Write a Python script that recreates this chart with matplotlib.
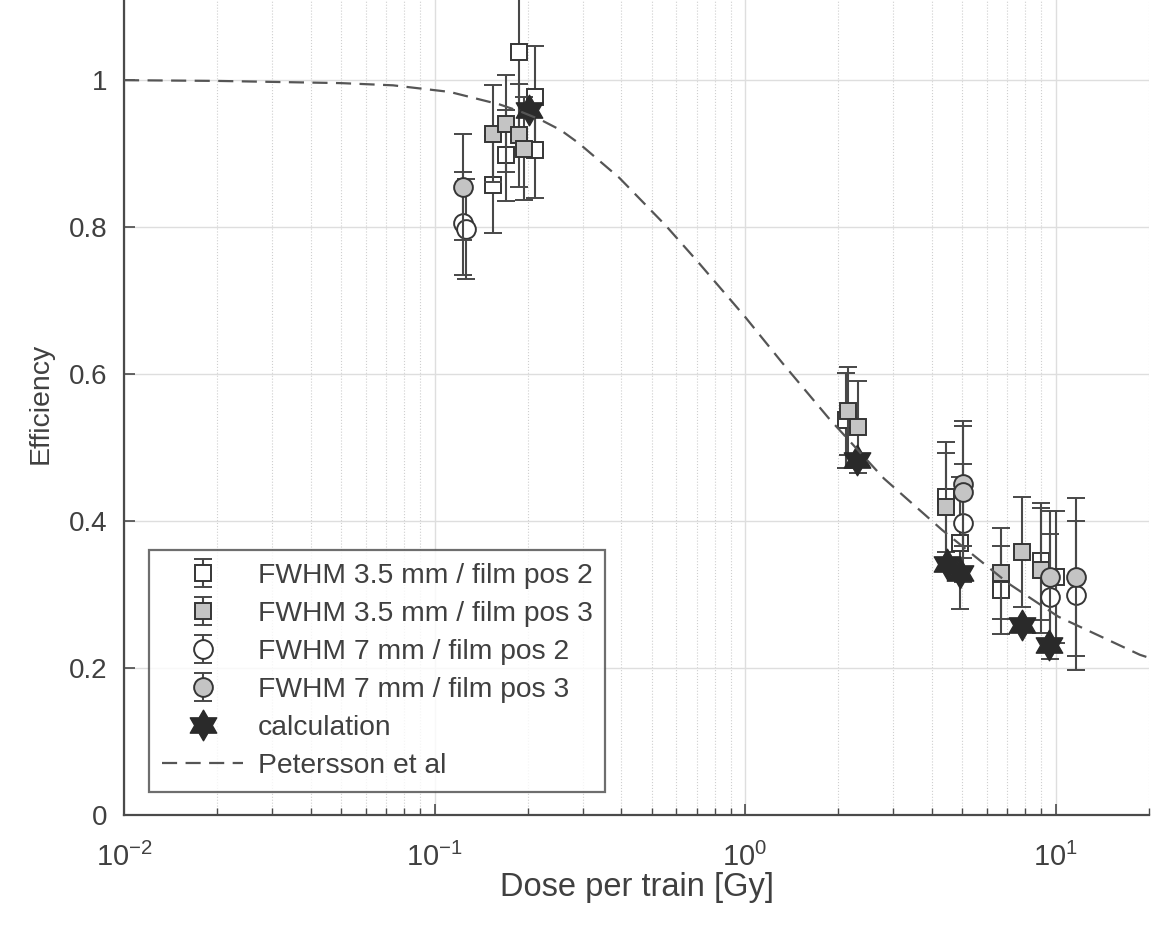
import matplotlib
matplotlib.use("Agg")
import matplotlib.pyplot as plt
import numpy as np
from matplotlib.path import Path
from matplotlib.ticker import LogLocator, NullFormatter, FixedLocator

plt.rcParams['font.family'] = ['Liberation Sans', 'DejaVu Sans']
plt.rcParams['mathtext.fontset'] = 'custom'
plt.rcParams['mathtext.rm'] = 'Liberation Sans'
plt.rcParams['mathtext.it'] = 'Liberation Sans:italic'

# ---- measured efficiencies (dose per train [Gy], efficiency, error) ----
sq_pos2_dose = [0.154, 0.170, 0.1875, 0.210, 0.210, 2.11, 4.44, 4.92, 6.69, 8.99, 10.06]
sq_pos2_eff  = [0.858, 0.898, 1.038, 0.977, 0.905, 0.537, 0.433, 0.370, 0.306, 0.345, 0.324]
sq_pos2_err  = [0.066, 0.062, 0.120, 0.070, 0.065, 0.065, 0.075, 0.090, 0.060, 0.080, 0.090]

sq_pos3_dose = [0.154, 0.170, 0.1875, 0.1945, 2.15, 2.31, 4.44, 6.69, 7.79, 8.99]
sq_pos3_eff  = [0.927, 0.941, 0.925, 0.907, 0.550, 0.528, 0.419, 0.329, 0.358, 0.333]
sq_pos3_err  = [0.066, 0.066, 0.070, 0.070, 0.060, 0.063, 0.073, 0.062, 0.075, 0.085]

ci_pos2_dose = [0.1233, 0.126, 5.02, 9.57, 11.62]
ci_pos2_eff  = [0.805, 0.797, 0.397, 0.297, 0.299]
ci_pos2_err  = [0.070, 0.068, 0.080, 0.085, 0.101]

ci_pos3_dose = [0.1233, 5.02, 5.02, 9.57, 11.62]
ci_pos3_eff  = [0.855, 0.451, 0.440, 0.324, 0.324]
ci_pos3_err  = [0.072, 0.085, 0.090, 0.090, 0.108]

calc_dose = [0.2015, 2.30, 4.47, 4.92, 7.77, 9.55]
calc_eff  = [0.959, 0.483, 0.342, 0.329, 0.258, 0.231]

# ---- Petersson et al. model curve ----
pet_dose = [0.01, 0.02, 0.05, 0.0735, 0.112, 0.162, 0.19, 0.22, 0.255, 0.292, 0.394,
            0.556, 0.711, 1.0, 1.32, 1.86, 2.80, 4.31, 7.06, 10.2, 18.7, 20.0]
pet_eff  = [1.000, 0.999, 0.996, 0.993, 0.984, 0.967, 0.957, 0.946, 0.932, 0.914, 0.867,
            0.802, 0.751, 0.678, 0.615, 0.540, 0.458, 0.388, 0.315, 0.270, 0.218, 0.214]

series_labels = ['FWHM 3.5 mm / film pos 2', 'FWHM 3.5 mm / film pos 3',
                 'FWHM 7 mm / film pos 2', 'FWHM 7 mm / film pos 3',
                 'calculation', 'Petersson et al']

x_ticks = [0.01, 0.1, 1, 10]
x_ticklabels = [r'$10^{-2}$', r'$10^{-1}$', r'$10^{0}$', r'$10^{1}$']
y_ticks = [0, 0.2, 0.4, 0.6, 0.8, 1.0]
y_ticklabels = ['0', '0.2', '0.4', '0.6', '0.8', '1']

TXT = '#404040'
EDGE = '#353535'
BAR = '#484848'
GRAYFILL = '#c4c4c4'

fig = plt.figure(figsize=(11.6, 9.26), dpi=100)
ax = fig.add_axes([124 / 1160, 111 / 926, 1025 / 1160, 823 / 926])
ax.set_xscale('log')
ax.set_xlim(0.01, 20)
ax.set_ylim(0, 1.12)

# grid
ax.set_axisbelow(True)
ax.grid(True, which='major', axis='both', color='#dedede', linewidth=1.0, linestyle='-')
ax.xaxis.set_minor_locator(LogLocator(base=10, subs=np.arange(2, 10)))
ax.xaxis.set_minor_formatter(NullFormatter())
ax.grid(True, which='minor', axis='x', color='#cfcfcf', linewidth=0.8, linestyle=':')

hexagram = Path.unit_regular_star(6, 0.577)

eb_kw = dict(linestyle='none', ecolor=BAR, elinewidth=1.5, capsize=6.5, capthick=1.5,
             markeredgecolor=EDGE, markeredgewidth=1.4)

h1 = ax.errorbar(sq_pos2_dose, sq_pos2_eff, yerr=sq_pos2_err, marker='s', markersize=12,
                 markerfacecolor='white', zorder=3, label=series_labels[0], **eb_kw)
h2 = ax.errorbar(sq_pos3_dose, sq_pos3_eff, yerr=sq_pos3_err, marker='s', markersize=12,
                 markerfacecolor=GRAYFILL, zorder=4, label=series_labels[1], **eb_kw)
h3 = ax.errorbar(ci_pos2_dose, ci_pos2_eff, yerr=ci_pos2_err, marker='o', markersize=13.5,
                 markerfacecolor='white', zorder=5, label=series_labels[2], **eb_kw)
h4 = ax.errorbar(ci_pos3_dose, ci_pos3_eff, yerr=ci_pos3_err, marker='o', markersize=13.5,
                 markerfacecolor=GRAYFILL, zorder=6, label=series_labels[3], **eb_kw)
h5, = ax.plot(calc_dose, calc_eff, linestyle='none', marker=hexagram, markersize=22,
              markerfacecolor='#2a2a2a', markeredgecolor='#2a2a2a', markeredgewidth=1.0,
              zorder=7, label=series_labels[4])
h6, = ax.plot(pet_dose, pet_eff, color='#555555', linewidth=1.6, linestyle=(0, (6.8, 3.8)),
              zorder=8, label=series_labels[5])

# axes styling
for side in ('top', 'right'):
    ax.spines[side].set_visible(False)
for side in ('left', 'bottom'):
    ax.spines[side].set_color('#4a4a4a')
    ax.spines[side].set_linewidth(1.6)

ax.set_xticks(x_ticks)
ax.set_xticklabels(x_ticklabels)
ax.yaxis.set_major_locator(FixedLocator(y_ticks))
ax.set_yticklabels(y_ticklabels)
ax.tick_params(axis='both', which='major', direction='in', length=8, width=1.2,
               colors='#4a4a4a', labelcolor=TXT, labelsize=20)
ax.tick_params(axis='x', which='major', pad=20, labelsize=21)
ax.tick_params(axis='y', which='major', pad=12)
ax.tick_params(axis='x', which='minor', direction='in', length=5, width=1.0, colors='#4a4a4a')

ax.set_xlabel('Dose per train [Gy]', fontsize=23.5, color=TXT, labelpad=0)
ax.set_ylabel('Efficiency', fontsize=20.5, color=TXT, labelpad=11)

leg = ax.legend(handles=[h1, h2, h3, h4, h5, h6], labels=series_labels,
                loc='upper left', bbox_to_anchor=((149 - 124) / 1025, (815 - 550) / 823),
                borderaxespad=0, fontsize=20.3, frameon=True, fancybox=False,
                edgecolor='#4a4a4a', handlelength=2.9, handletextpad=0.5,
                labelspacing=0.43, borderpad=0.45, labelcolor=TXT)
leg.get_frame().set_linewidth(1.6)
leg.set_zorder(20)

fig.savefig('out.png', dpi=100, facecolor='white')
